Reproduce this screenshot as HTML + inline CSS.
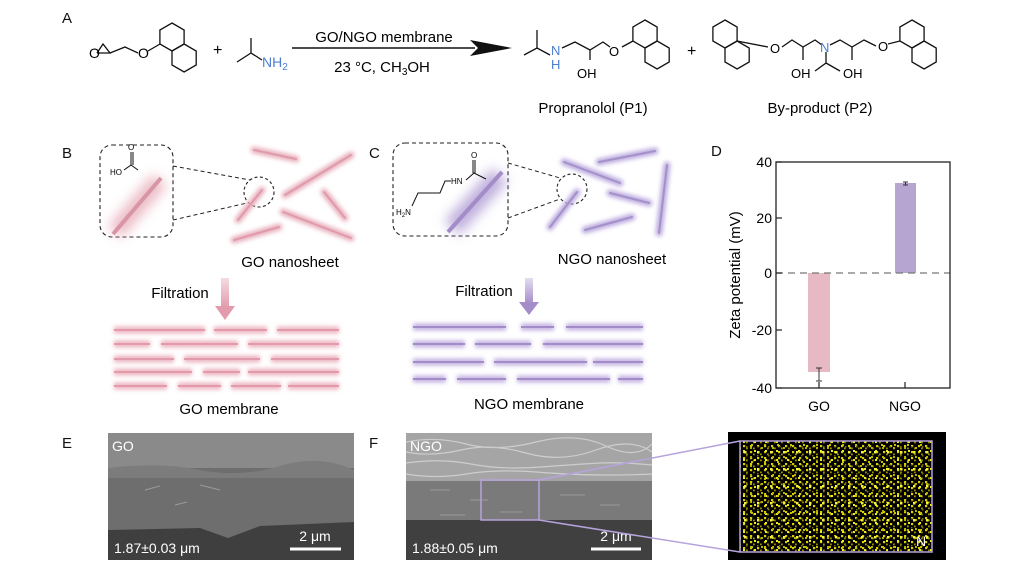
<!DOCTYPE html>
<html><head><meta charset="utf-8"><style>
html,body{margin:0;padding:0;background:#fff;width:1024px;height:576px;overflow:hidden}
svg text{font-family:"Liberation Sans",Arial,sans-serif}
</style></head><body>
<svg width="1024" height="576" viewBox="0 0 1024 576" xmlns="http://www.w3.org/2000/svg">
<defs>
<g id="hex"><polygon points="0,-14 12.1,-7 12.1,7 0,14 -12.1,7 -12.1,-7" fill="none" stroke="#111" stroke-width="1.3"/></g>
<g id="naph"><use href="#hex"/><use href="#hex" x="12.1" y="21"/></g>
<filter id="blur" x="-20%" y="-50%" width="140%" height="200%"><feGaussianBlur stdDeviation="2"/></filter>
<filter id="blur2" x="-50%" y="-50%" width="200%" height="200%"><feGaussianBlur stdDeviation="6"/></filter>
<pattern id="dots" width="7" height="6" patternUnits="userSpaceOnUse">
<rect x="1" y="1" width="2.2" height="2.2" fill="#d8d000"/><rect x="4" y="3.5" width="1.8" height="1.8" fill="#9a9200"/>
</pattern>
<pattern id="dots2" width="11" height="9" patternUnits="userSpaceOnUse">
<rect x="6" y="0" width="2" height="2" fill="#eeea20"/><rect x="2" y="6" width="2" height="2" fill="#b8b000"/><rect x="9" y="5" width="1.5" height="1.5" fill="#777000"/>
</pattern>
<pattern id="dots3" width="13" height="17" patternUnits="userSpaceOnUse">
<rect x="3" y="9" width="2.5" height="2.5" fill="#f4f040"/><rect x="10" y="2" width="2" height="2" fill="#c8c000"/>
</pattern>
<linearGradient id="pk" x1="0" y1="0" x2="0" y2="1"><stop offset="0" stop-color="#f3dbe0"/><stop offset="1" stop-color="#e39aab"/></linearGradient>
<linearGradient id="pu" x1="0" y1="0" x2="0" y2="1"><stop offset="0" stop-color="#e3dcf0"/><stop offset="1" stop-color="#a48cc9"/></linearGradient>
</defs>

<g font-size="15" fill="#111">
<text x="62" y="23">A</text><text x="62" y="158">B</text><text x="369" y="158">C</text>
<text x="711" y="156">D</text><text x="62" y="448">E</text><text x="369" y="448">F</text>
</g>

<g stroke="#111" stroke-width="1.3" fill="none">
<polyline points="97,53 103,44 110,53 97,53"/>
<polyline points="110,53 125,47 138,53"/>
<line x1="148" y1="51" x2="160" y2="44"/>
</g>
<text x="89" y="58" font-size="14">O</text>
<text x="138" y="58" font-size="14">O</text>
<use href="#naph" x="172" y="37"/>
<text x="213" y="55" font-size="16">+</text>
<g stroke="#111" stroke-width="1.3" fill="none"><polyline points="237,62 251,53 262,60"/><line x1="251" y1="53" x2="251" y2="38"/></g>
<text x="262" y="67" font-size="14" fill="#4a7fd0">NH<tspan font-size="10" dy="3">2</tspan></text>

<line x1="292" y1="48" x2="475" y2="48" stroke="#111" stroke-width="1.5"/>
<polygon points="470,40 512,48 470,56 478,48" fill="#111"/>
<text x="384" y="42" font-size="15" text-anchor="middle">GO/NGO membrane</text>
<text x="382" y="72" font-size="15" text-anchor="middle">23 °C, CH<tspan font-size="10" dy="3">3</tspan><tspan dy="-3">OH</tspan></text>

<g stroke="#111" stroke-width="1.3" fill="none">
<polyline points="524,55 537,48 550,55"/><line x1="537" y1="48" x2="537" y2="30"/>
<polyline points="562,48 575,42 590,50 603,42 610,47"/>
<line x1="590" y1="50" x2="590" y2="60"/>
<line x1="622" y1="47" x2="633" y2="41"/>
</g>
<text x="551" y="55" font-size="13" fill="#4a7fd0">N</text>
<text x="551" y="69" font-size="13" fill="#4a7fd0">H</text>
<text x="577" y="78" font-size="13">OH</text>
<text x="609" y="56" font-size="13">O</text>
<use href="#naph" x="645" y="34"/>
<text x="687" y="56" font-size="16">+</text>
<text x="593" y="113" font-size="15" text-anchor="middle">Propranolol  (P1)</text>

<use href="#naph" x="725" y="34"/>
<use href="#naph" x="912" y="34"/>
<g stroke="#111" stroke-width="1.3" fill="none">
<line x1="737" y1="41" x2="768" y2="47"/>
<polyline points="782,47 792,40 803,47 815,40 822,45"/>
<line x1="803" y1="47" x2="803" y2="60"/>
<polyline points="830,45 840,40 852,47 864,40 876,46"/>
<line x1="852" y1="47" x2="852" y2="60"/>
<polyline points="826,52 826,63 815,71"/><line x1="826" y1="63" x2="840" y2="71"/>
<line x1="888" y1="44" x2="900" y2="41"/>
</g>
<text x="770" y="53" font-size="13">O</text>
<text x="820" y="52" font-size="13" fill="#4a7fd0">N</text>
<text x="791" y="78" font-size="13">OH</text>
<text x="843" y="78" font-size="13">OH</text>
<text x="878" y="51" font-size="13">O</text>
<text x="820" y="113" font-size="15" text-anchor="middle">By-product  (P2)</text>

<rect x="100" y="145" width="73" height="92" rx="12" fill="none" stroke="#222" stroke-dasharray="4,3" stroke-width="1.1"/>
<line x1="115" y1="232" x2="160" y2="180" stroke="#e7a9b7" stroke-width="18" filter="url(#blur2)" opacity="0.8"/>
<line x1="113" y1="234" x2="161" y2="178" stroke="#d895a6" stroke-width="4"/>
<g stroke="#111" stroke-width="1" fill="none"><polyline points="124,170 131,165 138,170"/><line x1="131" y1="165" x2="131" y2="152"/><line x1="133" y1="165" x2="133" y2="152"/></g>
<text x="128" y="150" font-size="8">O</text><text x="110" y="175" font-size="8">HO</text>
<circle cx="259" cy="192" r="15" fill="none" stroke="#222" stroke-dasharray="3,2.5" stroke-width="1.1"/>
<line x1="173" y1="166" x2="250" y2="180" stroke="#222" stroke-dasharray="4,3"/>
<line x1="173" y1="220" x2="247" y2="203" stroke="#222" stroke-dasharray="4,3"/>
<g stroke="#e8b0bd" stroke-width="7" stroke-linecap="round" filter="url(#blur)">
<line x1="254" y1="150" x2="296" y2="159"/><line x1="285" y1="195" x2="351" y2="155"/>
<line x1="324" y1="192" x2="345" y2="218"/><line x1="283" y1="212" x2="351" y2="238"/>
<line x1="234" y1="240" x2="279" y2="227"/><line x1="238" y1="220" x2="262" y2="190"/>
</g>
<g stroke="#e09aab" stroke-width="2" stroke-linecap="round">
<line x1="254" y1="150" x2="296" y2="159"/><line x1="285" y1="195" x2="351" y2="155"/>
<line x1="324" y1="192" x2="345" y2="218"/><line x1="283" y1="212" x2="351" y2="238"/>
<line x1="234" y1="240" x2="279" y2="227"/><line x1="238" y1="220" x2="262" y2="190"/>
</g>
<text x="290" y="267" font-size="15" text-anchor="middle">GO nanosheet</text>
<text x="180" y="298" font-size="15" text-anchor="middle">Filtration</text>
<rect x="221" y="278" width="8" height="30" fill="url(#pk)"/>
<polygon points="215,306 235,306 225,320" fill="#e39aab"/>
<g stroke="#ecb4c1" stroke-width="7" filter="url(#blur)">
<path d="M114 330H205M214 330H267M277 330H339 M114 344H150M161 344H238M248 344H339 M114 359H174M184 359H260M271 359H339 M114 372H192M203 372H240M248 372H339 M114 386H167M178 386H221M231 386H281M288 386H339"/>
</g>
<g stroke="#e39aab" stroke-width="2">
<path d="M114 330H205M214 330H267M277 330H339 M114 344H150M161 344H238M248 344H339 M114 359H174M184 359H260M271 359H339 M114 372H192M203 372H240M248 372H339 M114 386H167M178 386H221M231 386H281M288 386H339"/>
</g>
<text x="229" y="414" font-size="15" text-anchor="middle">GO membrane</text>

<rect x="393" y="143" width="115" height="93" rx="12" fill="none" stroke="#222" stroke-dasharray="4,3" stroke-width="1.1"/>
<line x1="452" y1="228" x2="500" y2="175" stroke="#b3a0d6" stroke-width="20" filter="url(#blur2)" opacity="0.85"/>
<line x1="448" y1="232" x2="502" y2="172" stroke="#a38cc8" stroke-width="4"/>
<g stroke="#111" stroke-width="1" fill="none">
<polyline points="412,206 418,193 440,193 445,181 451,181"/>
<polyline points="466,180 474,173 486,179"/>
<line x1="473" y1="173" x2="473" y2="160"/><line x1="475" y1="173" x2="475" y2="160"/>
</g>
<text x="396" y="215" font-size="8">H<tspan font-size="6" dy="2">2</tspan><tspan dy="-2">N</tspan></text>
<text x="451" y="184" font-size="8">HN</text><text x="471" y="158" font-size="8">O</text>
<circle cx="572" cy="189" r="15" fill="none" stroke="#222" stroke-dasharray="3,2.5" stroke-width="1.1"/>
<line x1="508" y1="163" x2="560" y2="178" stroke="#222" stroke-dasharray="4,3"/>
<line x1="508" y1="218" x2="560" y2="199" stroke="#222" stroke-dasharray="4,3"/>
<g stroke="#bcaadf" stroke-width="7" stroke-linecap="round" filter="url(#blur)">
<line x1="564" y1="162" x2="620" y2="183"/><line x1="599" y1="162" x2="655" y2="151"/>
<line x1="610" y1="193" x2="649" y2="203"/><line x1="667" y1="165" x2="659" y2="233"/>
<line x1="585" y1="230" x2="632" y2="217"/><line x1="550" y1="227" x2="577" y2="192"/>
</g>
<g stroke="#a591ca" stroke-width="2" stroke-linecap="round">
<line x1="564" y1="162" x2="620" y2="183"/><line x1="599" y1="162" x2="655" y2="151"/>
<line x1="610" y1="193" x2="649" y2="203"/><line x1="667" y1="165" x2="659" y2="233"/>
<line x1="585" y1="230" x2="632" y2="217"/><line x1="550" y1="227" x2="577" y2="192"/>
</g>
<text x="612" y="264" font-size="15" text-anchor="middle">NGO nanosheet</text>
<text x="484" y="296" font-size="15" text-anchor="middle">Filtration</text>
<rect x="525" y="278" width="8" height="26" fill="url(#pu)"/>
<polygon points="519,302 539,302 529,315" fill="#a48cc9"/>
<g stroke="#c2b2e2" stroke-width="7" filter="url(#blur)">
<path d="M413 327H506M521 327H554M566 327H643 M413 344H465M475 344H531M543 344H643 M413 362H484M494 362H587M593 362H643 M413 379H446M457 379H506M517 379H610M618 379H643"/>
</g>
<g stroke="#a38cc8" stroke-width="2">
<path d="M413 327H506M521 327H554M566 327H643 M413 344H465M475 344H531M543 344H643 M413 362H484M494 362H587M593 362H643 M413 379H446M457 379H506M517 379H610M618 379H643"/>
</g>
<text x="529" y="409" font-size="15" text-anchor="middle">NGO membrane</text>

<rect x="808" y="273" width="22" height="99" fill="#e6b9c4"/>
<rect x="895" y="183" width="21" height="90" fill="#b5a5d0"/>
<g stroke="#333" stroke-width="1"><line x1="819" y1="368" x2="819" y2="381"/><line x1="816" y1="368" x2="822" y2="368"/><line x1="816" y1="381" x2="822" y2="381"/>
<line x1="905.5" y1="182" x2="905.5" y2="185"/><line x1="903" y1="182" x2="908" y2="182"/><line x1="903" y1="185" x2="908" y2="185"/></g>
<line x1="776" y1="273" x2="950" y2="273" stroke="#777" stroke-width="1.3" stroke-dasharray="7,5"/>
<rect x="776" y="162" width="174" height="226" fill="none" stroke="#222" stroke-width="1.3"/>
<g stroke="#222" stroke-width="1.2"><line x1="776" y1="162" x2="782" y2="162"/><line x1="776" y1="218" x2="782" y2="218"/><line x1="776" y1="273" x2="782" y2="273"/><line x1="776" y1="330" x2="782" y2="330"/><line x1="776" y1="388" x2="782" y2="388"/>
<line x1="819" y1="388" x2="819" y2="382"/><line x1="905" y1="388" x2="905" y2="382"/></g>
<g font-size="14" text-anchor="end"><text x="772" y="167">40</text><text x="772" y="223">20</text><text x="772" y="278">0</text><text x="772" y="335">-20</text><text x="772" y="393">-40</text></g>
<text x="819" y="411" font-size="14" text-anchor="middle">GO</text>
<text x="905" y="411" font-size="14" text-anchor="middle">NGO</text>
<text transform="translate(740,275) rotate(-90)" font-size="15" text-anchor="middle">Zeta potential (mV)</text>

<rect x="108" y="433" width="246" height="127" fill="#6e6e6e"/>
<rect x="108" y="433" width="246" height="35" fill="#8a8a8a"/>
<path d="M108 468 Q160 462 200 470 T280 466 T354 470 L354 478 L108 478Z" fill="#7c7c7c"/>
<path d="M108 530 L200 528 L228 538 L260 526 L354 522 L354 560 L108 560Z" fill="#3f3f3f"/>
<g stroke="#9a9a9a" stroke-width="1" fill="none"><path d="M175 505 l12 -3 M200 485 l20 5 M145 490 l15 -4"/></g>
<text x="112" y="451" font-size="14" fill="#fff">GO</text>
<text x="114" y="553" font-size="14" fill="#fff">1.87±0.03 μm</text>
<line x1="290" y1="549" x2="341" y2="549" stroke="#fff" stroke-width="3"/>
<text x="315" y="541" font-size="14" fill="#fff" text-anchor="middle">2 μm</text>

<rect x="406" y="433" width="246" height="127" fill="#7a7a7a"/>
<rect x="406" y="433" width="246" height="48" fill="#a5a5a5"/>
<g stroke="#d8d8d8" stroke-width="1.2" fill="none" opacity="0.8">
<path d="M406 442 q30 -6 60 2 t70 -2 t70 4 t46 -2"/><path d="M406 452 q25 5 55 -2 t65 3 t70 -3 t56 2"/><path d="M406 463 q35 -5 65 1 t70 3 t60 -4 t51 2"/><path d="M406 474 q30 5 60 0 t70 -2 t70 3 t46 -1"/></g>
<g stroke="#999" stroke-width="1" fill="none"><path d="M430 490h20M470 500h18M500 512h22M560 495h25M600 505h20M440 515h25"/></g>
<rect x="406" y="520" width="246" height="40" fill="#404040"/>
<text x="410" y="451" font-size="14" fill="#fff">NGO</text>
<text x="412" y="553" font-size="14" fill="#fff">1.88±0.05 μm</text>
<line x1="591" y1="549" x2="641" y2="549" stroke="#fff" stroke-width="3"/>
<text x="616" y="541" font-size="14" fill="#fff" text-anchor="middle">2 μm</text>
<rect x="481" y="480" width="58" height="40" fill="none" stroke="#b6a3dc" stroke-width="1.5"/>

<rect x="728" y="432" width="218" height="128" fill="#000"/>
<rect x="740" y="441" width="192" height="111" fill="url(#dots)"/>
<rect x="740" y="441" width="192" height="111" fill="url(#dots2)"/>
<rect x="740" y="441" width="192" height="111" fill="url(#dots3)"/>
<rect x="740" y="441" width="192" height="111" fill="none" stroke="#b6a3dc" stroke-width="1.5"/>
<line x1="539" y1="480" x2="740" y2="441" stroke="#b6a3dc" stroke-width="1.5"/>
<line x1="539" y1="520" x2="740" y2="552" stroke="#b6a3dc" stroke-width="1.5"/>
<text x="916" y="546" font-size="14" fill="#fff">N</text>
</svg>
</body></html>
